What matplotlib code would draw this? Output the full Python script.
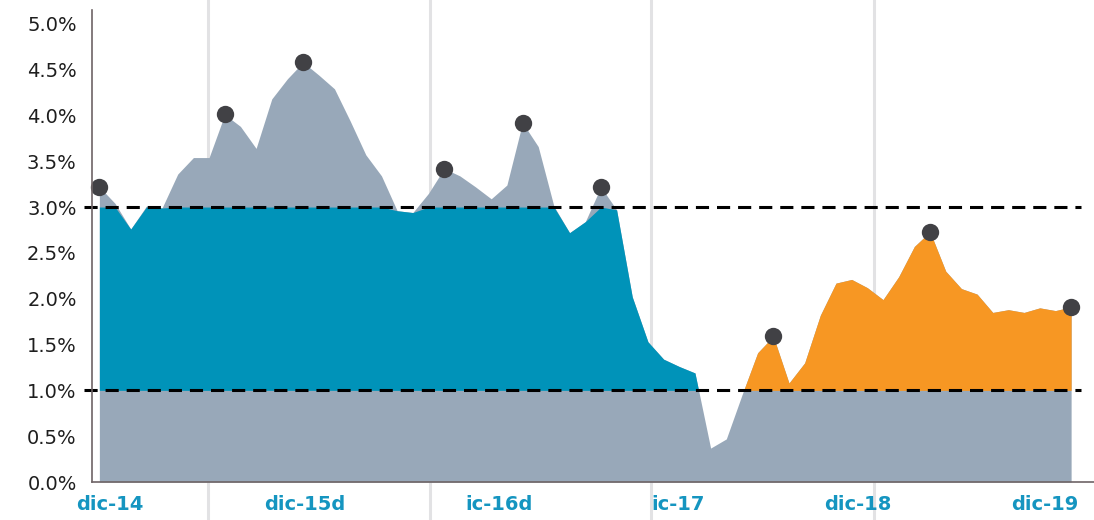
import numpy as np
import matplotlib
matplotlib.use("Agg")
import matplotlib.pyplot as plt

# ---- data (percent) ----
values = [3.22, 3.04, 2.76, 3.01, 2.99, 3.36, 3.54, 3.54, 4.01, 3.88, 3.64, 4.18,
          4.40, 4.58, 4.44, 4.29, 3.94, 3.57, 3.34, 2.96, 2.94, 3.15, 3.42, 3.34,
          3.22, 3.09, 3.24, 3.92, 3.66, 3.01, 2.72, 2.84, 3.22, 2.97, 2.02, 1.53,
          1.34, 1.26, 1.19, 0.37, 0.47, 0.95, 1.41, 1.59, 1.08, 1.30, 1.82, 2.17,
          2.21, 2.12, 1.99, 2.24, 2.57, 2.73, 2.30, 2.11, 2.05, 1.85, 1.88, 1.85,
          1.90, 1.87, 1.91]
highlight_idx = [0, 8, 13, 22, 27, 32, 43, 53, 62]
band_low = 1.0
band_high = 3.0
blue_end = 40          # first segment (blue) covers indices < blue_end
x_labels = ["dic-14", "dic-15d", "ic-16d", "ic-17", "dic-18", "dic-19"]
y_ticks = [0.0, 0.5, 1.0, 1.5, 2.0, 2.5, 3.0, 3.5, 4.0, 4.5, 5.0]

# ---- layout / style ----
label_pos = [0.68, 13.12, 25.5, 36.9, 48.4, 60.3]
grid_pos = [6.96, 21.1, 35.2, 49.4]
GRAY = "#98a8b9"
BLUE = "#0093b9"
ORANGE = "#f79723"
DOT = "#414145"
LBLUE = "#1595c0"

x = np.arange(len(values))
y = np.array(values)

fig = plt.figure(figsize=(10.94, 5.2), dpi=100)
ax = fig.add_axes([92/1094, 38/520, 1002/1094, 472/520])
ax.set_xlim(-0.47, 63.46)
ax.set_ylim(0, 5.15)

# vertical grid lines spanning entire figure height
for g in grid_pos:
    ax.axvline(g, ymin=-0.081, ymax=1.03, color="#e2e2e4", lw=2.2,
               zorder=0, clip_on=False)

# grey full area
ax.fill_between(x, 0, y, color=GRAY, lw=0, zorder=1)

# blue band segment
xb, yb = x[:blue_end], y[:blue_end]
ax.fill_between(xb, band_low, np.minimum(yb, band_high), where=yb > band_low,
                interpolate=True, color=BLUE, lw=0, zorder=2)
# orange band segment
xo, yo = x[blue_end - 1:], y[blue_end - 1:]
ax.fill_between(xo, band_low, np.minimum(yo, band_high), where=yo > band_low,
                interpolate=True, color=ORANGE, lw=0, zorder=2)

# dashed reference lines
for lvl in (band_low, band_high):
    ax.axhline(lvl, xmin=-0.008, xmax=0.987, color="black", lw=2.2,
               dashes=(4.3, 2.6), zorder=3, clip_on=False)

# highlight dots
ax.plot(x[highlight_idx], y[highlight_idx], "o", color=DOT, ms=12.5,
        mec="none", zorder=4, clip_on=False)

# axes styling
for s in ("top", "right"):
    ax.spines[s].set_visible(False)
for s in ("left", "bottom"):
    ax.spines[s].set_color("#6e6466")
    ax.spines[s].set_linewidth(1.2)
ax.spines["left"].set_zorder(5)
ax.spines["bottom"].set_zorder(5)

ax.set_yticks(y_ticks)
ax.set_yticklabels([f"{v:.1f}%" for v in y_ticks], fontsize=14,
                   color="#1e1e1e")
ax.tick_params(axis="y", length=0, pad=11)
ax.set_xticks([])

for pos, lab in zip(label_pos, x_labels):
    ax.text(pos, -0.048, lab, transform=ax.get_xaxis_transform(),
            ha="center", va="center", fontsize=14, fontweight="bold",
            color=LBLUE)

fig.savefig("out.png", dpi=100)
